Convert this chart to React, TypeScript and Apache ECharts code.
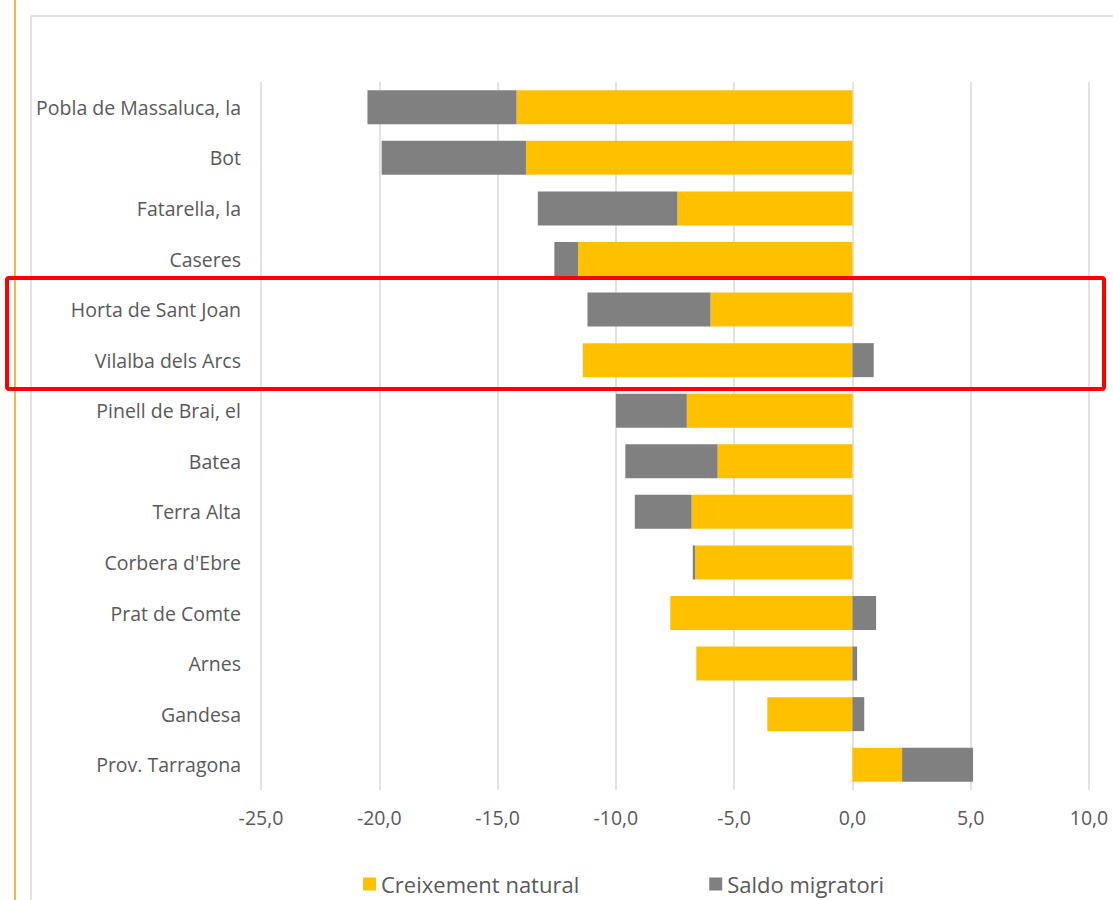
import React, { useEffect, useRef } from "react";
import * as echarts from "echarts";

const categories = [
  "Pobla de Massaluca, la",
  "Bot",
  "Fatarella, la",
  "Caseres",
  "Horta de Sant Joan",
  "Vilalba dels Arcs",
  "Pinell de Brai, el",
  "Batea",
  "Terra Alta",
  "Corbera d'Ebre",
  "Prat de Comte",
  "Arnes",
  "Gandesa",
  "Prov. Tarragona",
];
const creixementNatural = [-14.2, -13.8, -7.4, -11.6, -6.0, -11.4, -7.0, -5.7, -6.8, -6.65, -7.7, -6.6, -3.6, 2.1];
const saldoMigratori = [-6.3, -6.1, -5.9, -1.0, -5.2, 0.9, -3.0, -3.9, -2.4, -0.1, 1.0, 0.2, 0.5, 3.0];
const seriesNames = ["Creixement natural", "Saldo migratori"];
const xTicks = { min: -25, max: 10, interval: 5 };

const FONT = "Open Sans";
const TEXT = "#595959";

export default function App() {
  const ref = useRef<HTMLDivElement>(null);
  useEffect(() => {
    if (!ref.current) return;
    const chart = echarts.init(ref.current, null, { renderer: "svg" });
    chart.setOption({
      animation: false,
      backgroundColor: "#ffffff",
      textStyle: { fontFamily: FONT },
      grid: { left: 261, right: 24, top: 82, bottom: 110, containLabel: false },
      xAxis: {
        type: "value",
        min: xTicks.min,
        max: xTicks.max,
        interval: xTicks.interval,
        axisLine: { show: false },
        axisTick: { show: false },
        splitLine: { show: true, lineStyle: { color: "#d9d9d9", width: 1.5 } },
        axisLabel: {
          color: TEXT,
          fontFamily: FONT,
          fontSize: 19.5,
          margin: 17,
          formatter: (v: number) => v.toFixed(1).replace(".", ","),
        },
      },
      yAxis: {
        type: "category",
        data: categories,
        inverse: true,
        axisLine: { show: false },
        axisTick: { show: false },
        splitLine: { show: false },
        axisLabel: { color: TEXT, fontFamily: FONT, fontSize: 19.5, margin: 20 },
      },
      legend: {
        data: seriesNames,
        left: 363,
        top: 873,
        itemWidth: 13,
        itemHeight: 13,
        itemGap: 130,
        icon: "rect",
        padding: 0,
        textStyle: { color: TEXT, fontFamily: FONT, fontSize: 22 },
      },
      series: [
        {
          name: seriesNames[0],
          type: "bar",
          stack: "total",
          data: creixementNatural,
          barWidth: 34,
          itemStyle: { color: "#FFC000" },
        },
        {
          name: seriesNames[1],
          type: "bar",
          stack: "total",
          data: saldoMigratori,
          barWidth: 34,
          itemStyle: { color: "#808080" },
        },
      ],
      graphic: [
        {
          type: "rect",
          z: 0,
          silent: true,
          shape: { x: 31, y: 16, width: 1200, height: 1000 },
          style: { fill: "none", stroke: "#d9d9d9", lineWidth: 1.5 },
        },
        {
          type: "line",
          silent: true,
          shape: { x1: 15, y1: 0, x2: 15, y2: 900 },
          style: { stroke: "#f5b54a", lineWidth: 2 },
        },
        {
          type: "rect",
          z: 100,
          silent: true,
          shape: { x: 7, y: 278, width: 1097, height: 111, r: 2 },
          style: { fill: "none", stroke: "#ff0000", lineWidth: 4 },
        },
      ],
    });
    return () => chart.dispose();
  }, []);
  return (
    <div
      ref={ref}
      style={{ position: "absolute", left: 0, top: 0, width: 1113, height: 900 }}
    />
  );
}
